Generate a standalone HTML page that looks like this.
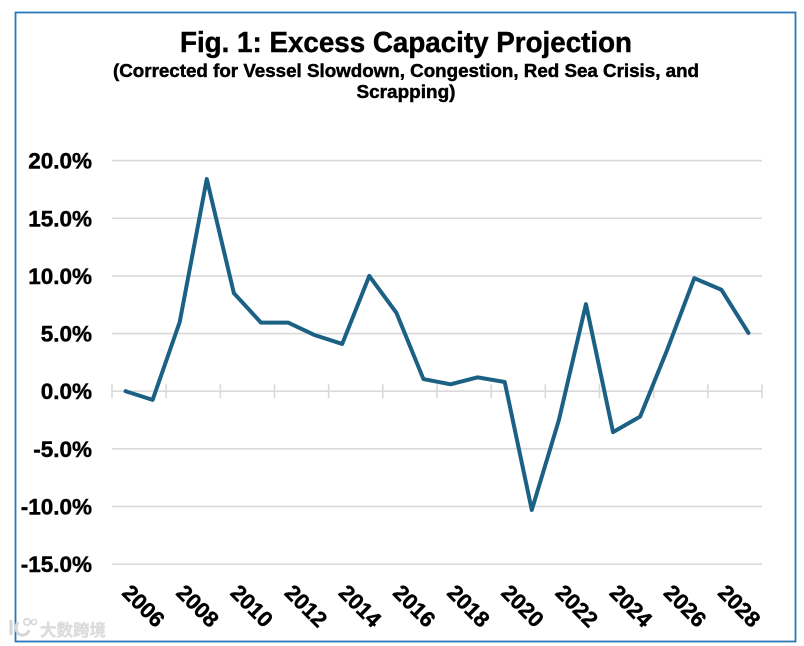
<!DOCTYPE html>
<html lang="en">
<head>
<meta charset="utf-8">
<title>Fig. 1: Excess Capacity Projection</title>
<style>
html,body{margin:0;padding:0;background:#fff;width:804px;height:646px;overflow:hidden}
svg{display:block;font-family:"Liberation Sans","Noto Sans CJK SC",sans-serif}
.heavy{stroke:#000;stroke-width:0.45px}
</style>
</head>
<body>
<svg id="chart" xmlns="http://www.w3.org/2000/svg" width="804" height="646" viewBox="0 0 804 646">
  <rect x="0" y="0" width="804" height="646" fill="#fff"/>
  <rect x="15.5" y="12.5" width="780" height="629" fill="#fff" stroke="#2a78b8" stroke-width="1.8"/>
  <text class="heavy" x="406" y="52" text-anchor="middle" font-size="29" font-weight="700" fill="#000" textLength="452" lengthAdjust="spacingAndGlyphs">Fig. 1: Excess Capacity Projection</text>
  <text class="heavy" x="406" y="77" text-anchor="middle" font-size="18" font-weight="700" fill="#000" textLength="586" lengthAdjust="spacingAndGlyphs">(Corrected for Vessel Slowdown, Congestion, Red Sea Crisis, and</text>
  <text class="heavy" x="406" y="98" text-anchor="middle" font-size="18" font-weight="700" fill="#000" textLength="99" lengthAdjust="spacingAndGlyphs">Scrapping)</text>
  <g id="grid"></g>
  <g id="yLabels"></g>
  <g id="xAxis"></g>
  <g id="xLabels"></g>
  <g id="series"></g>
  <g>
    <path d="M11 620v15M18 622c-4 6-1 14 5 13 3 0 5-2 6-5" fill="none" stroke="#d6d6d6" stroke-width="3"/>
    <circle cx="27" cy="622" r="3.2" fill="none" stroke="#d6d6d6" stroke-width="1.6"/>
    <circle cx="34" cy="622" r="2.6" fill="none" stroke="#d6d6d6" stroke-width="1.4"/>
    <text x="40" y="636" font-family="'Liberation Sans','Noto Sans CJK SC',sans-serif" font-size="16.5" font-weight="700" fill="#dedede" stroke="#d2d2d2" stroke-width="0.3">大数跨境</text>
  </g>
</svg>
<script>
const categories = [2006,2007,2008,2009,2010,2011,2012,2013,2014,2015,2016,2017,2018,2019,2020,2021,2022,2023,2024,2025,2026,2027,2028,2029];
const excessCapacity = [0,-0.75,6.0,18.4,8.5,5.95,5.95,4.85,4.1,10.0,6.8,1.05,0.6,1.2,0.8,-10.3,-2.5,7.55,-3.55,-2.2,3.6,9.8,8.8,5.05];
const yTicks = [20,15,10,5,0,-5,-10,-15];
const yTickLabels = ["20.0%","15.0%","10.0%","5.0%","0.0%","-5.0%","-10.0%","-15.0%"];
const xTickLabels = ["2006","2008","2010","2012","2014","2016","2018","2020","2022","2024","2026","2028"];

const NS = "http://www.w3.org/2000/svg";
const plotLeft = 112, plotRight = 762, zeroY = 391.2, unitY = 11.53;
const band = (plotRight - plotLeft) / categories.length;
function xScale(i){ return plotLeft + band * (i + 0.5); }
function xEdge(i){ return plotLeft + band * i; }
function yScale(v){ return zeroY - v * unitY; }
function make(tag, attrs, parent){
  const el = document.createElementNS(NS, tag);
  for (const k in attrs) el.setAttribute(k, attrs[k]);
  parent.appendChild(el);
  return el;
}

const grid = document.getElementById("grid");
const yLabels = document.getElementById("yLabels");
yTicks.forEach(function(v, i){
  const line = make("line", {x1:plotLeft, x2:plotRight, y1:yScale(v), y2:yScale(v), stroke:"#d9d9d9", "stroke-width":1.6}, grid);
  
  
  const t = make("text", {class:"heavy", x:92, y:yScale(v) + 8, "text-anchor":"end", "font-size":22.5, "font-weight":700, fill:"#000"}, yLabels);
  
  
  t.textContent = yTickLabels[i];
});

const xAxis = document.getElementById("xAxis");
const xLabels = document.getElementById("xLabels");
for (let i = 0; i <= categories.length; i += 2) {
  const tick = make("line", {x1:xEdge(i), x2:xEdge(i), y1:zeroY - 7, y2:zeroY + 7, stroke:"#d9d9d9", "stroke-width":1.6}, xAxis);
  
  
}
xTickLabels.forEach(function(label, i){
  const cx = xEdge(i * 2) + 31.5, cy = 606;
  const t = make("text", {class:"heavy", x:cx, y:cy + 7.5, "text-anchor":"middle", "font-size":22, "font-weight":700, fill:"#000", transform:"rotate(45 " + cx + " " + cy + ")"}, xLabels);
  
  
  t.textContent = label;
});

const pts = excessCapacity.map(function(v, i){ return xScale(i).toFixed(2) + "," + yScale(v).toFixed(2); }).join(" ");
const seriesLine = make("polyline", {points:pts, fill:"none", stroke:"#1a6183", "stroke-width":4, "stroke-linejoin":"round", "stroke-linecap":"round"}, document.getElementById("series"));


</script>
</body>
</html>
